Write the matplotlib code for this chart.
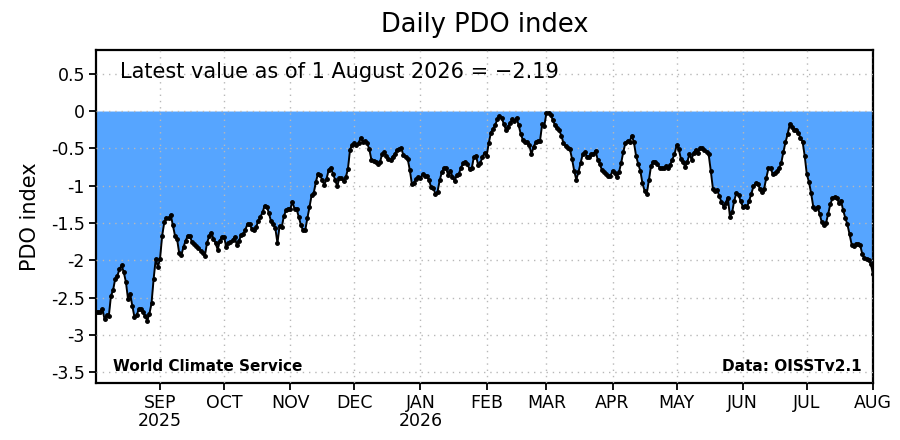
import numpy as np
import pandas as pd
import matplotlib
matplotlib.use("Agg")
import matplotlib.pyplot as plt

# Daily PDO index, 2 Aug 2025 .. 1 Aug 2026
start_date = "2025-08-02"
pdo = [
    -2.70, -2.69, -2.69, -2.65, -2.79, -2.74, -2.75, -2.48, -2.40, -2.25,
    -2.21, -2.12, -2.07, -2.16, -2.29, -2.52, -2.45, -2.61, -2.76, -2.74,
    -2.66, -2.65, -2.70, -2.75, -2.81, -2.72, -2.58, -2.25, -1.98, -2.09,
    -1.98, -1.67, -1.49, -1.43, -1.44, -1.39, -1.53, -1.67, -1.72, -1.91,
    -1.93, -1.82, -1.74, -1.67, -1.68, -1.76, -1.78, -1.81, -1.84, -1.87,
    -1.90, -1.94, -1.77, -1.68, -1.63, -1.71, -1.77, -1.86, -1.74, -1.69,
    -1.69, -1.82, -1.77, -1.76, -1.73, -1.69, -1.80, -1.74, -1.66, -1.65,
    -1.59, -1.51, -1.52, -1.58, -1.60, -1.56, -1.47, -1.42, -1.36, -1.27,
    -1.28, -1.37, -1.48, -1.52, -1.57, -1.77, -1.54, -1.56, -1.41, -1.33,
    -1.31, -1.31, -1.22, -1.31, -1.32, -1.42, -1.53, -1.60, -1.60, -1.44,
    -1.29, -1.13, -1.10, -0.95, -0.84, -0.86, -0.93, -0.99, -0.91, -0.79,
    -0.76, -0.84, -0.92, -1.01, -0.90, -0.90, -0.94, -0.89, -0.78, -0.52,
    -0.45, -0.43, -0.45, -0.43, -0.36, -0.41, -0.40, -0.43, -0.51, -0.65,
    -0.67, -0.69, -0.71, -0.69, -0.58, -0.55, -0.60, -0.64, -0.66, -0.61,
    -0.58, -0.52, -0.51, -0.50, -0.59, -0.62, -0.64, -0.79, -0.98, -0.96,
    -0.91, -0.89, -0.90, -0.85, -0.87, -0.87, -0.93, -1.02, -1.03, -1.11,
    -1.08, -0.93, -0.82, -0.77, -0.77, -0.86, -0.80, -0.88, -0.94, -0.86,
    -0.84, -0.76, -0.70, -0.69, -0.71, -0.78, -0.77, -0.62, -0.60, -0.72,
    -0.70, -0.62, -0.56, -0.60, -0.43, -0.29, -0.24, -0.19, -0.11, -0.07,
    -0.09, -0.17, -0.25, -0.21, -0.16, -0.11, -0.14, -0.09, -0.19, -0.31,
    -0.39, -0.41, -0.42, -0.46, -0.58, -0.48, -0.42, -0.40, -0.40, -0.18,
    -0.20, -0.03, -0.02, -0.05, -0.12, -0.19, -0.23, -0.26, -0.33, -0.43,
    -0.47, -0.49, -0.51, -0.64, -0.80, -0.92, -0.82, -0.70, -0.58, -0.55,
    -0.61, -0.61, -0.58, -0.58, -0.53, -0.65, -0.71, -0.79, -0.82, -0.85,
    -0.87, -0.87, -0.80, -0.83, -0.89, -0.82, -0.70, -0.55, -0.43, -0.40,
    -0.41, -0.33, -0.42, -0.60, -0.71, -0.80, -0.97, -1.07, -1.11, -0.93,
    -0.74, -0.68, -0.68, -0.71, -0.76, -0.77, -0.77, -0.74, -0.76, -0.72,
    -0.65, -0.58, -0.46, -0.51, -0.64, -0.68, -0.75, -0.68, -0.58, -0.65,
    -0.56, -0.52, -0.56, -0.50, -0.50, -0.52, -0.55, -0.58, -0.80, -1.04,
    -1.07, -1.06, -1.14, -1.22, -1.28, -1.23, -1.16, -1.42, -1.36, -1.20,
    -1.10, -1.12, -1.21, -1.28, -1.27, -1.29, -1.20, -1.11, -1.01, -0.97,
    -0.98, -1.04, -1.08, -1.04, -0.90, -0.77, -0.77, -0.84, -0.83, -0.81,
    -0.77, -0.70, -0.55, -0.42, -0.31, -0.18, -0.22, -0.25, -0.25, -0.29,
    -0.36, -0.41, -0.60, -0.85, -0.95, -1.10, -1.28, -1.31, -1.28, -1.38,
    -1.49, -1.53, -1.50, -1.38, -1.25, -1.17, -1.15, -1.16, -1.23, -1.20,
    -1.33, -1.43, -1.52, -1.65, -1.79, -1.81, -1.78, -1.78, -1.80, -1.92,
    -1.97, -1.98, -2.00, -2.05, -2.19,
]

month_starts = ["2025-09-01", "2025-10-01", "2025-11-01", "2025-12-01",
                "2026-01-01", "2026-02-01", "2026-03-01", "2026-04-01",
                "2026-05-01", "2026-06-01", "2026-07-01", "2026-08-01"]
month_labels = ["SEP\n2025", "OCT", "NOV", "DEC", "JAN\n2026", "FEB", "MAR",
                "APR", "MAY", "JUN", "JUL", "AUG"]
y_ticks = [0.5, 0, -0.5, -1, -1.5, -2, -2.5, -3, -3.5]
y_tick_labels = ["0.5", "0", "-0.5", "-1", "-1.5", "-2", "-2.5", "-3", "-3.5"]

dates = pd.date_range(start_date, periods=len(pdo), freq="D")
vals = np.array(pdo)

plt.rcParams['font.family'] = ['DejaVu Sans']
fig = plt.figure(figsize=(9, 4.4), dpi=100)
ax = fig.add_axes([96 / 900, 1 - 383 / 440, 777 / 900, 333 / 440])

ax.fill_between(dates, vals, 0, color="#56A5FF", linewidth=0, zorder=1)
ax.plot(dates, vals, color="black", linewidth=1.4, marker="o",
        markersize=2.5, zorder=3)

ax.set_xlim(dates[0], dates[-1])
ax.set_ylim(-3.646, 0.818)

ax.set_xticks(pd.to_datetime(month_starts))
ax.set_xticklabels(month_labels, fontsize=12.5, linespacing=1.0)
ax.set_yticks(y_ticks)
ax.set_yticklabels(y_tick_labels, fontsize=12.5)
ax.tick_params(axis="both", direction="out", length=5, width=1.3, pad=3)

ax.set_axisbelow(False)
ax.grid(True, color="#b8b8b8", linestyle=(0, (1, 3.5)), linewidth=1.0)
for s in ax.spines.values():
    s.set_linewidth(1.6)

ax.set_ylabel("PDO index", fontsize=15, labelpad=8)
ax.set_title("Daily PDO index", fontsize=18.5, pad=13)

latest = f"{vals[-1]:.2f}".replace("-", "\u2212")
ax.text(0.031, 0.934, f"Latest value as of 1 August 2026 = {latest}",
        transform=ax.transAxes, fontsize=15, ha="left", va="center")
ax.text(0.022, 0.051, "World Climate Service", transform=ax.transAxes,
        fontsize=11, fontweight="bold", ha="left", va="center")
ax.text(0.986, 0.051, "Data: OISSTv2.1", transform=ax.transAxes,
        fontsize=11, fontweight="bold", ha="right", va="center")

fig.savefig("out.png", dpi=100)
